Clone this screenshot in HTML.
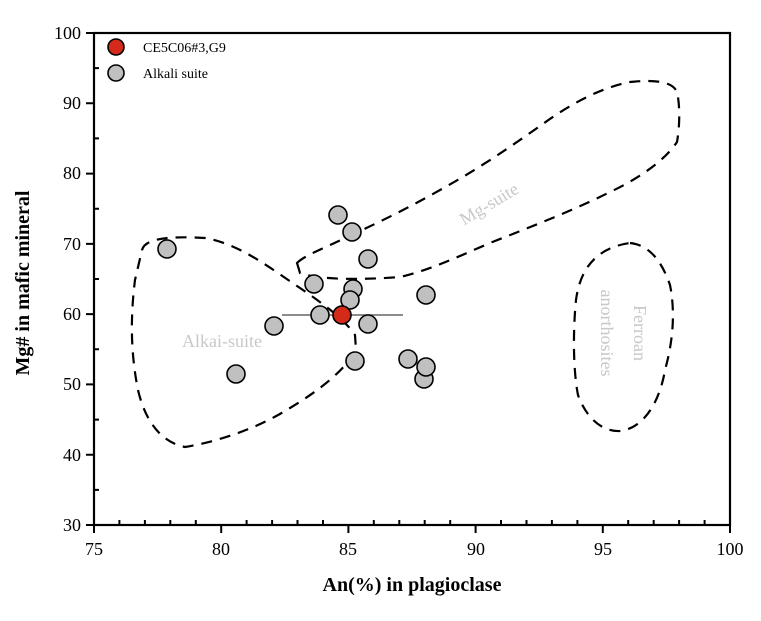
<!DOCTYPE html>
<html><head><meta charset="utf-8"><style>body{margin:0;background:#fff}svg{display:block}</style></head><body>
<svg width="761" height="621" xmlns="http://www.w3.org/2000/svg" font-family="Liberation Serif, serif">
<rect width="761" height="621" fill="#fff"/>
<g fill="none" stroke="#000" stroke-width="2.2" stroke-dasharray="11,8">
<path d="M142,250 C145,238 170,236 205,238 C240,244 270,268 300,288 C325,305 345,320 355,335 L356,350 C345,370 320,390 290,408 C255,430 215,442 185,447 C160,442 145,420 138,390 C131,355 130,320 135,280 Z"/>
<path d="M297,263 L300,273 C320,280 360,280 400,277 C430,270 455,258 490,243 C530,227 570,212 610,192 C640,178 665,160 677,142 C680,125 680,105 677,92 C672,80 650,80 630,82 C600,88 570,104 540,126 C510,147 480,168 440,190 C410,207 380,222 347,237 C325,248 305,255 297,263 Z"/>
<path d="M630,243 C650,245 662,262 670,285 C676,315 672,345 665,370 C660,400 645,428 620,431 C600,432 585,415 578,395 C573,370 573,330 576,300 C580,270 595,248 630,243 Z"/>
</g>
<text x="222" y="347" font-size="18" fill="#c8c8c8" text-anchor="middle">Alkai-suite</text>
<text transform="translate(492,209) rotate(-31)" font-size="18" fill="#c8c8c8" text-anchor="middle">Mg-suite</text>
<text transform="translate(634,333) rotate(90)" font-size="18" fill="#c8c8c8" text-anchor="middle">Ferroan</text>
<text transform="translate(601,333) rotate(90)" font-size="18" fill="#c8c8c8" text-anchor="middle">anorthosites</text>
<line x1="282" y1="315" x2="403" y2="315" stroke="#666" stroke-width="1.5"/>
<g fill="#c0c0c0" stroke="#000" stroke-width="1.6">
<circle cx="338" cy="215" r="9"/><circle cx="352" cy="232" r="9"/><circle cx="368" cy="259" r="9"/>
<circle cx="167" cy="249" r="9"/><circle cx="314" cy="284" r="9"/><circle cx="353" cy="289" r="9"/>
<circle cx="350" cy="300" r="9"/><circle cx="426" cy="295" r="9"/><circle cx="320" cy="315" r="9"/>
<circle cx="368" cy="324" r="9"/><circle cx="274" cy="326" r="9"/><circle cx="355" cy="361" r="9"/>
<circle cx="236" cy="374" r="9"/><circle cx="408" cy="359" r="9"/><circle cx="424" cy="379" r="9"/>
<circle cx="426" cy="367" r="9"/>
<circle cx="116" cy="73" r="8"/>
</g>
<g fill="#d42a1a" stroke="#000" stroke-width="1.6">
<circle cx="342" cy="315" r="9"/><circle cx="116" cy="47" r="8"/>
</g>
<text x="143" y="52" font-size="14">CE5C06#3,G9</text>
<text x="143" y="78" font-size="14">Alkali suite</text>
<rect x="94" y="33" width="636" height="492" fill="none" stroke="#000" stroke-width="2.2"/>
<g stroke="#000" stroke-width="2">
<line x1="94" y1="525" x2="94" y2="533"/><line x1="221.2" y1="525" x2="221.2" y2="533"/><line x1="348.4" y1="525" x2="348.4" y2="533"/><line x1="475.6" y1="525" x2="475.6" y2="533"/><line x1="602.8" y1="525" x2="602.8" y2="533"/><line x1="730" y1="525" x2="730" y2="533"/>
<path d="M119.4,525v-5M144.9,525v-5M170.3,525v-5M195.8,525v-5M246.6,525v-5M272.1,525v-5M297.5,525v-5M323,525v-5M373.8,525v-5M399.3,525v-5M424.7,525v-5M450.2,525v-5M501,525v-5M526.5,525v-5M551.9,525v-5M577.4,525v-5M628.2,525v-5M653.7,525v-5M679.1,525v-5M704.6,525v-5"/>
<path d="M86,525h8M86,454.7h8M86,384.4h8M86,314.1h8M86,243.9h8M86,173.6h8M86,103.3h8M86,33h8"/>
<path d="M94,489.9h5M94,419.6h5M94,349.3h5M94,279h5M94,208.7h5M94,138.4h5M94,68.1h5"/>
</g>
<g font-size="18" text-anchor="end">
<text x="81" y="531">30</text><text x="81" y="461">40</text><text x="81" y="390">50</text><text x="81" y="320">60</text><text x="81" y="250">70</text><text x="81" y="179">80</text><text x="81" y="109">90</text><text x="81" y="39">100</text>
</g>
<g font-size="18" text-anchor="middle">
<text x="94" y="555">75</text><text x="221" y="555">80</text><text x="348" y="555">85</text><text x="476" y="555">90</text><text x="603" y="555">95</text><text x="730" y="555">100</text>
</g>
<text x="412" y="591" font-size="20" font-weight="bold" text-anchor="middle">An(%) in plagioclase</text>
<text transform="translate(29,283) rotate(-90)" font-size="20" font-weight="bold" text-anchor="middle">Mg# in mafic mineral</text>
</svg>
</body></html>
